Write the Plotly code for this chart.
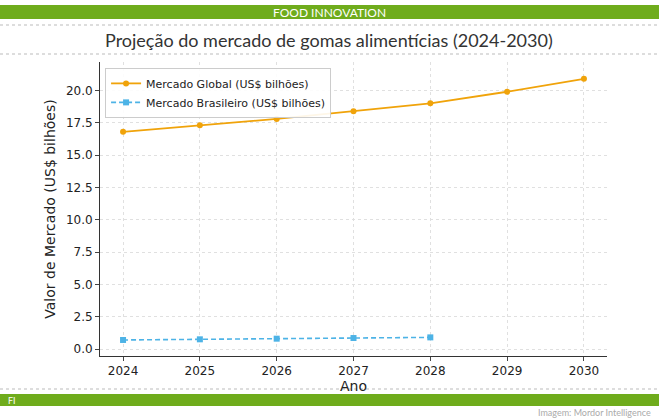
import plotly.graph_objects as go

years = [2024, 2025, 2026, 2027, 2028, 2029, 2030]
global_vals = [16.8, 17.3, 17.8, 18.4, 19.0, 19.9, 20.9]
br_years = [2024, 2025, 2026, 2027, 2028]
br_vals = [0.7, 0.75, 0.8, 0.85, 0.9]

fig = go.Figure()
fig.add_trace(go.Scatter(x=years, y=global_vals, mode="lines+markers", name="Mercado Global (US$ bilhões)",
                         line=dict(color="#f0a30a", width=1.8), marker=dict(symbol="circle", size=6)))
fig.add_trace(go.Scatter(x=br_years, y=br_vals, mode="lines+markers", name="Mercado Brasileiro (US$ bilhões)",
                         line=dict(color="#4db3e6", width=1.6, dash="5px,3px"), marker=dict(symbol="square", size=6)))

G = "#6fac1c"
L, R, T, B = 100, 52, 62, 64
ph = 420 - T - B
pw = 659 - L - R
def py(pix): return (420 - B - pix) / ph
def px(pix): return (pix - L) / pw

shapes = [
    dict(type="rect", xref="paper", yref="paper", x0=px(-5), x1=px(665), y0=py(19), y1=py(5), fillcolor=G, line_width=0, layer="below"),
    dict(type="rect", xref="paper", yref="paper", x0=px(-5), x1=px(665), y0=py(406), y1=py(394), fillcolor=G, line_width=0, layer="below"),
]
for yy in [25, 54, 389]:
    shapes.append(dict(type="line", xref="paper", yref="paper", x0=px(0), x1=px(659), y0=py(yy), y1=py(yy),
                       line=dict(color="#bbbbbb", width=1, dash="dot"), layer="below"))

ann = [
    dict(text="FOOD INNOVATION", x=px(329), y=py(12), xanchor="center",
         font=dict(family="Lato", size=12, color="white")),
    dict(text="Projeção do mercado de gomas alimentícias (2024-2030)", x=px(329), y=py(40), xanchor="center",
         font=dict(family="Lato", size=18, color="#333333")),
    dict(text="FI", x=px(6), y=py(400), xanchor="left",
         font=dict(family="Lato", size=9, color="white")),
    dict(text="Imagem: Mordor Intelligence", x=px(653), y=py(413), xanchor="right",
         font=dict(family="Lato", size=9, color="#aaaaaa")),
]
for a in ann:
    a.update(xref="paper", yref="paper", showarrow=False, yanchor="middle")

fig.update_layout(
    width=659, height=420, margin=dict(l=L, r=R, t=T, b=B),
    paper_bgcolor="white", plot_bgcolor="white",
    font=dict(family="DejaVu Sans", size=12, color="#222222"),
    shapes=shapes, annotations=ann,
    xaxis=dict(title=dict(text="Ano", standoff=2), range=[2023.7, 2030.3], tickvals=years, showgrid=True,
               gridcolor="#e0e0e0", griddash="dot", showline=True, linecolor="#333333", ticks="outside", ticklen=4,
               zeroline=False),
    yaxis=dict(title=dict(text="Valor de Mercado (US$ bilhões)", standoff=6), range=[-0.54, 22.2], dtick=2.5,
               tickformat=".1f", showgrid=True, gridcolor="#e0e0e0", griddash="dot", showline=True,
               linecolor="#333333", ticks="outside", ticklen=4, zeroline=False),
    legend=dict(x=0.01, y=0.98, xanchor="left", yanchor="top", bgcolor="rgba(255,255,255,0.9)",
                bordercolor="#cccccc", borderwidth=1, font=dict(size=11)),
)
fig.write_html("out.html", config={"displayModeBar": False},
               post_script="document.body.style.margin='0';document.body.style.overflow='hidden';")
